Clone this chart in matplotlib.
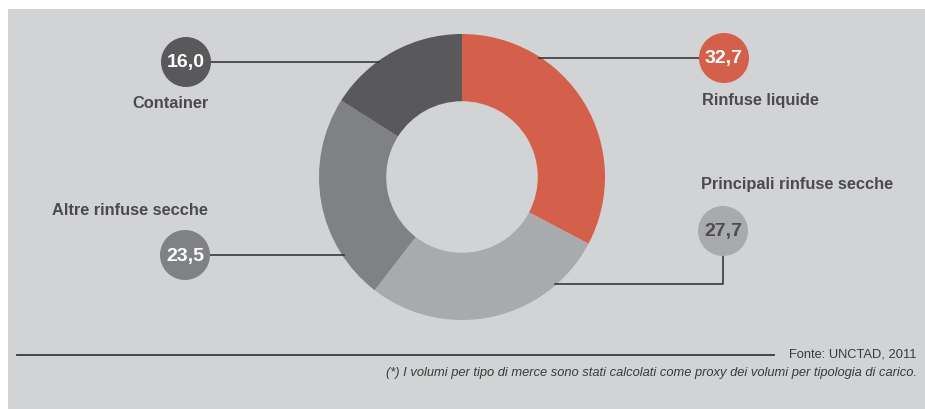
import numpy as np
import matplotlib.pyplot as plt
from matplotlib.patches import Rectangle, Circle

# dati (milioni di tonnellate, %)
labels = ["Rinfuse liquide", "Principali rinfuse secche", "Altre rinfuse secche", "Container"]
values = [32.7, 27.7, 23.5, 16.0]
value_text = ["32,7", "27,7", "23,5", "16,0"]
colors = ["#D4604C", "#A9AAAD", "#808184", "#59585B"]
num_colors = ["white", "#4d4d50", "white", "white"]
source = "Fonte: UNCTAD, 2011"
note = "(*) I volumi per tipo di merce sono stati calcolati come proxy dei volumi per tipologia di carico."

W, H = 925, 410
plt.rcParams['font.family'] = ['Liberation Sans', 'DejaVu Sans']

fig = plt.figure(figsize=(W / 100, H / 100), dpi=100, facecolor="white")
ax = fig.add_axes([0, 0, 1, 1])

def Y(py):
    return H - py

# donut
cx, cy, r = 462, 178, 143
ax.pie(values, colors=colors, startangle=90, counterclock=False,
       center=(cx, Y(cy)), radius=r, wedgeprops=dict(width=r * 0.47, linewidth=0))
ax.set_xlim(0, W)
ax.set_ylim(0, H)
ax.set_aspect("equal")
ax.axis("off")

# sfondo grigio
ax.add_patch(Rectangle((8, -5), W, H - 5, facecolor="#D2D3D5", zorder=-5))

def edge_x(py, side):
    return cx + side * np.sqrt(r**2 - (py - cy) ** 2)

# posizioni bolle: (x, y, lato, y etichetta)
bubbles = [(724, 59, 1, 101), (723, 232, 1, 185), (185, 256, -1, 211), (186, 63, -1, 104)]
br = 25
lc = "#2b2b2b"
for i, (bx, by, side, ly) in enumerate(bubbles):
    ax.add_patch(Circle((bx, Y(by)), br, facecolor=colors[i], edgecolor="none", zorder=3))
    ax.text(bx, Y(by), value_text[i], ha="center", va="center", fontsize=14,
            fontweight="bold", color=num_colors[i], zorder=4)
    if side == 1:
        ax.text(bx - br + 3, Y(ly), labels[i], ha="left", va="center", fontsize=11.8,
                fontweight="bold", color="#4b4b4e")
    else:
        ax.text(bx + br - 2, Y(ly), labels[i], ha="right", va="center", fontsize=11.8,
                fontweight="bold", color="#4b4b4e")

# linee di collegamento
ax.plot([edge_x(59, 1) - 2, 724 - br], [Y(59), Y(59)], color=lc, lw=1.1, zorder=2)
ax.plot([edge_x(285, 1) - 2, 723, 723], [Y(285), Y(285), Y(232 + br)], color=lc, lw=1.1, zorder=2)
ax.plot([185 + br, edge_x(256, -1) + 2], [Y(256), Y(256)], color=lc, lw=1.1, zorder=2)
ax.plot([186 + br, edge_x(63, -1) + 2], [Y(63), Y(63)], color=lc, lw=1.1, zorder=2)

# fonte e nota
ax.plot([17, 774], [Y(356), Y(356)], color="#3a3a3a", lw=1.3)
ax.text(917, Y(355), source, ha="right", va="center", fontsize=9.3, color="#3a3a3a")
ax.text(917, Y(373), note, ha="right", va="center", fontsize=9.3, style="italic", color="#3a3a3a")

plt.savefig("out.png", dpi=100, facecolor="white")
